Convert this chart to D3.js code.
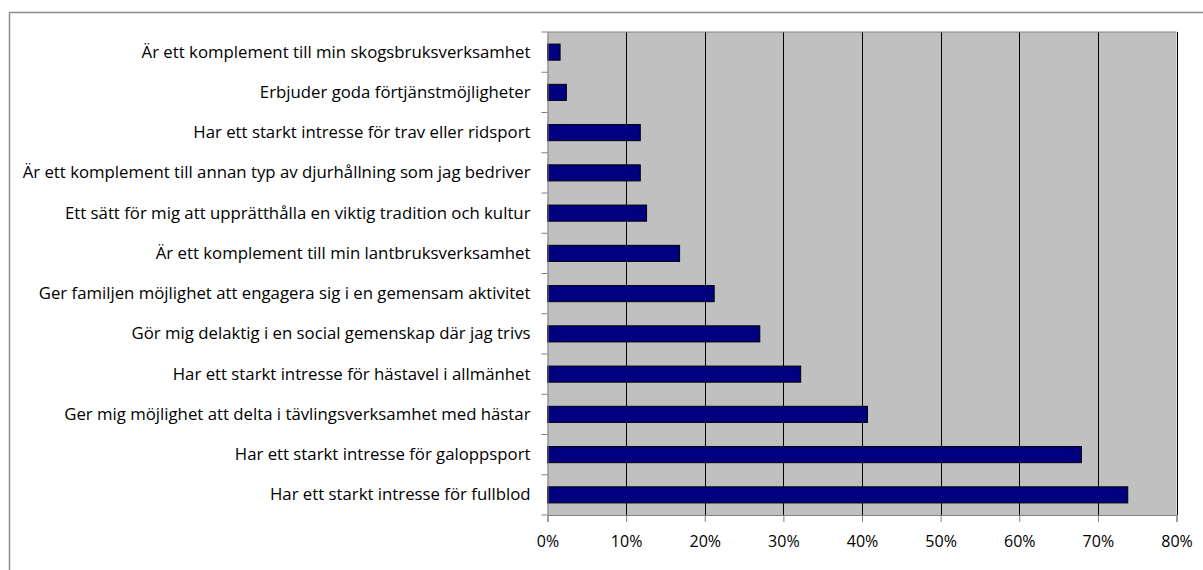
<!DOCTYPE html>
<html><head><meta charset="utf-8">
<script src="https://cdn.jsdelivr.net/npm/d3@7"></script>
<style>body{margin:0;background:#fff}svg{display:block}text{font-family:"Open Sans",sans-serif;fill:#000}</style>
</head><body>
<svg id="c" width="1203" height="570"></svg>
<script>
const categories = [
  "Är ett komplement till min skogsbruksverksamhet",
  "Erbjuder goda förtjänstmöjligheter",
  "Har ett starkt intresse för trav eller ridsport",
  "Är ett komplement till annan typ av djurhållning som jag bedriver",
  "Ett sätt för mig att upprätthålla en viktig tradition och kultur",
  "Är ett komplement till min lantbruksverksamhet",
  "Ger familjen möjlighet att engagera sig i en gemensam aktivitet",
  "Gör mig delaktig i en social gemenskap där jag trivs",
  "Har ett starkt intresse för hästavel i allmänhet",
  "Ger mig möjlighet att delta i tävlingsverksamhet med hästar",
  "Har ett starkt intresse för galoppsport",
  "Har ett starkt intresse för fullblod"
];
const values = [0.016, 0.024, 0.118, 0.118, 0.126, 0.168, 0.212, 0.270, 0.322, 0.407, 0.679, 0.738];
const xTicks = [0, 0.1, 0.2, 0.3, 0.4, 0.5, 0.6, 0.7, 0.8];

const svg = d3.select("#c");
const L = 547.5, R = 1176.5, T = 32, B = 515;

svg.append("rect").attr("x", 9.5).attr("y", 12.5).attr("width", 1300).attr("height", 700)
  .attr("fill", "none").attr("stroke", "#8c8c8c").attr("stroke-width", 1.5);

const x = d3.scaleLinear().domain([0, 0.8]).range([L, R]);
const y = d3.scaleBand().domain(categories).range([T, B]).paddingInner(0.6).paddingOuter(0.3);
const yb = d3.scaleBand().domain(categories).range([T, B]);

svg.append("rect").attr("x", L).attr("y", T).attr("width", R - L).attr("height", B - T).attr("fill", "#c0c0c0");

svg.append("g").selectAll("line").data(xTicks.slice(1)).join("line")
  .attr("x1", d => Math.round(x(d)) + 0.5).attr("x2", d => Math.round(x(d)) + 0.5)
  .attr("y1", T).attr("y2", B).attr("stroke", "#000").attr("stroke-width", 1);

svg.append("line").attr("x1", L).attr("x2", R).attr("y1", T).attr("y2", T).attr("stroke", "#808080");

svg.append("g").selectAll("rect").data(values).join("rect")
  .attr("x", x(0)).attr("y", (d, i) => y(categories[i]))
  .attr("width", d => x(d) - x(0)).attr("height", y.bandwidth())
  .attr("fill", "#000080").attr("stroke", "#000").attr("stroke-width", 1);

const xa = svg.append("g").attr("transform", `translate(0,${B})`)
  .call(d3.axisBottom(x).tickValues(xTicks).tickFormat(d3.format(".0%")).tickSize(7).tickPadding(14));
xa.select(".domain").attr("stroke", "#808080");
xa.selectAll(".tick line").attr("stroke", "#808080");
xa.selectAll("text").attr("font-size", 16).attr("font-family", "Open Sans");

const ya = svg.append("g").attr("transform", `translate(${L},0)`)
  .call(d3.axisLeft(yb).tickSize(0).tickPadding(17));
ya.select(".domain").attr("stroke", "#808080");
const yt = ya.selectAll("text").attr("font-family", "Open Sans").attr("font-size", 15);
let maxW = 0;
yt.each(function(){ maxW = Math.max(maxW, this.getComputedTextLength()); });
const fs = 15 * 508 / maxW;
yt.attr("font-size", fs);
svg.append("g").selectAll("line").data(d3.range(categories.length + 1)).join("line")
  .attr("x1", L - 6).attr("x2", L).attr("y1", i => T + i * yb.step()).attr("y2", i => T + i * yb.step())
  .attr("stroke", "#808080");
</script>
</body></html>
